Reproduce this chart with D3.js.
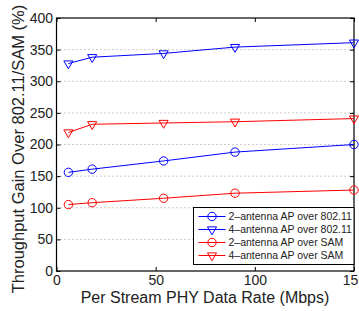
<!DOCTYPE html>
<html>
<head>
<meta charset="utf-8">
<script src="https://cdn.jsdelivr.net/npm/d3@7"></script>
<style>
  body { margin: 0; background: #fff; }
  svg { font-family: "Liberation Sans", Arial, sans-serif; }
</style>
</head>
<body>
<div id="chart"></div>
<script>
/* data */
const rates = [6, 18, 54, 90, 150];
const twoAnt80211 = [156, 161, 174, 188, 200];
const fourAnt80211 = [328, 338, 344, 354, 361];
const twoAntSam = [105, 108, 115, 123, 128];
const fourAntSam = [219, 232, 234, 236, 241];
const xTicks = [0, 50, 100, 150];
const yTicks = [0, 50, 100, 150, 200, 250, 300, 350, 400];

const series = [
  { name: "2\u2013antenna AP over 802.11", values: twoAnt80211, color: "#0000ff", marker: "circle" },
  { name: "4\u2013antenna AP over 802.11", values: fourAnt80211, color: "#0000ff", marker: "tri" },
  { name: "2\u2013antenna AP over SAM", values: twoAntSam, color: "#ff0000", marker: "circle" },
  { name: "4\u2013antenna AP over SAM", values: fourAntSam, color: "#ff0000", marker: "tri" }
];

const W = 359, H = 311;
const margin = { top: 18, right: 5, bottom: 40, left: 56.5 };
const pw = W - margin.left - margin.right;
const ph = H - margin.top - margin.bottom;

const svg = d3.select("#chart").append("svg")
  .attr("width", W).attr("height", H);
const g = svg.append("g")
  .attr("transform", "translate(" + margin.left + "," + margin.top + ")");

const x = d3.scaleLinear().domain([0, 150]).range([0, pw]);
const y = d3.scaleLinear().domain([0, 400]).range([ph, 0]);

/* dotted grid */
g.selectAll(".grid")
  .data(yTicks.filter(function (t) { return t > 0 && t < 400; }))
  .enter().append("line")
  .attr("x1", 0).attr("x2", pw)
  .attr("y1", function (t) { return y(t); })
  .attr("y2", function (t) { return y(t); })
  .style("stroke", "#999").style("stroke-width", 1)
  .style("stroke-dasharray", "1,3");

/* axes with inward ticks */
function styleAxis(sel) {
  sel.select(".domain").remove();
  sel.selectAll("line").style("stroke", "#000");
  sel.selectAll("text").style("font-size", "14px").style("fill", "#222");
}
g.append("g").attr("transform", "translate(0," + ph + ")")
  .call(d3.axisBottom(x).tickValues(xTicks).tickSize(-4).tickPadding(4.5))
  .call(styleAxis);
g.append("g")
  .call(d3.axisLeft(y).tickValues(yTicks).tickSize(-4).tickPadding(3.5))
  .call(styleAxis);
g.append("g")
  .call(d3.axisTop(x).tickValues(xTicks).tickSize(-4).tickFormat(""))
  .call(styleAxis);
g.append("g").attr("transform", "translate(" + pw + ",0)")
  .call(d3.axisRight(y).tickValues(yTicks).tickSize(-4).tickFormat(""))
  .call(styleAxis);

g.append("rect")
  .attr("width", pw).attr("height", ph)
  .style("fill", "none").style("stroke", "#000").style("stroke-width", 1.2);

/* lines and markers */
const line = d3.line()
  .x(function (d, i) { return x(rates[i]); })
  .y(function (d) { return y(d); });
const tri = d3.symbol().type(d3.symbolTriangle).size(36);

function drawMarker(sel, s) {
  if (s.marker === "circle") {
    sel.append("circle").attr("r", 4.2)
      .style("fill", "none").style("stroke", s.color).style("stroke-width", 1);
  } else {
    sel.append("path").attr("d", tri).attr("transform", "rotate(180)")
      .style("fill", "none").style("stroke", s.color).style("stroke-width", 1);
  }
}

series.forEach(function (s) {
  g.append("path").datum(s.values)
    .attr("d", line)
    .style("fill", "none").style("stroke", s.color).style("stroke-width", 1);
  s.values.forEach(function (v, i) {
    const m = g.append("g")
      .attr("transform", "translate(" + x(rates[i]) + "," + y(v) + ")");
    drawMarker(m, s);
  });
});

/* legend */
const lg = g.append("g").attr("transform", "translate(" + (pw - 160.5) + "," + (ph - 63.5) + ")");
lg.append("rect").attr("width", 160.5).attr("height", 57)
  .style("fill", "#fff").style("stroke", "#000").style("stroke-width", 1);
series.forEach(function (s, i) {
  const row = lg.append("g").attr("transform", "translate(0," + (9 + i * 13) + ")");
  row.append("line").attr("x1", 5).attr("x2", 32).attr("y1", 0).attr("y2", 0)
    .style("stroke", s.color).style("stroke-width", 1);
  const m = row.append("g").attr("transform", "translate(18.5,0)");
  drawMarker(m, s);
  row.append("text").attr("x", 35).attr("y", 3.8)
    .style("font-size", "10.5px").style("fill", "#222")
    .text(s.name);
});

/* axis titles */
svg.append("text")
  .attr("x", 205).attr("y", 303)
  .style("text-anchor", "middle").style("font-size", "16px").style("fill", "#222")
  .text("Per Stream PHY Data Rate (Mbps)");
svg.append("text")
  .attr("transform", "translate(24,149) rotate(-90)")
  .style("text-anchor", "middle").style("font-size", "16.5px").style("fill", "#222")
  .text("Throughput Gain Over 802.11/SAM (%)");
</script>
</body>
</html>
